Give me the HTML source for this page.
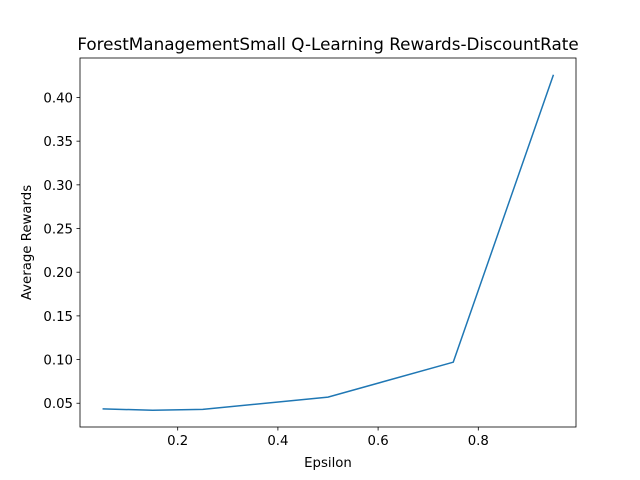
<!DOCTYPE html>
<html><head><meta charset="utf-8"><style>body{margin:0;background:#fff}svg{display:block;font-family:"DejaVu Sans","Liberation Sans",sans-serif}</style></head>
<body>
<svg id="chart" width="640" height="480">
<rect x="0" y="0" width="640" height="480" fill="#fff"/>
<text x="328" y="50" font-size="16.8" text-anchor="middle">ForestManagementSmall Q-Learning Rewards-DiscountRate</text>
<g id="xt"></g>
<g id="yt"></g>
<path id="line" fill="none" stroke="#1f77b4" stroke-width="1.5"/>
<rect x="80" y="58" width="496" height="369" fill="none" stroke="#000" stroke-width="0.8"/>
<text x="328" y="467" font-size="13.3" text-anchor="middle">Epsilon</text>
<text transform="translate(31,242.5) rotate(-90)" font-size="13.3" text-anchor="middle">Average Rewards</text>
</svg>
<script>
const epsilons=[0.05,0.15,0.25,0.5,0.75,0.95];
const rewards=[0.0435,0.042,0.043,0.057,0.097,0.426];
const xTicks=[0.2,0.4,0.6,0.8];
const xTickLabels=["0.2","0.4","0.6","0.8"];
const yTicks=[0.05,0.10,0.15,0.20,0.25,0.30,0.35,0.40];
const yTickLabels=["0.05","0.10","0.15","0.20","0.25","0.30","0.35","0.40"];
const L=80,R=576,T=58,B=427;
const xmin=Math.min(...epsilons),xmax=Math.max(...epsilons),xr=xmax-xmin;
const ymin0=Math.min(...rewards),ymax0=Math.max(...rewards),yr=ymax0-ymin0;
const x0=xmin-0.05*xr,x1=xmax+0.05*xr,y0=ymin0-0.05*yr,y1=ymax0+0.05*yr;
const sx=v=>L+(v-x0)/(x1-x0)*(R-L);
const sy=v=>B-(v-y0)/(y1-y0)*(B-T);
const NS="http://www.w3.org/2000/svg";
const xt=document.getElementById('xt'),yt=document.getElementById('yt');
xTicks.forEach((t,i)=>{
 const l=document.createElementNS(NS,'line');
 
 
 l.setAttribute('x1',sx(t));l.setAttribute('x2',sx(t));l.setAttribute('y1',B);l.setAttribute('y2',B+3.5);l.setAttribute('stroke','#000');l.setAttribute('stroke-width','0.8');xt.appendChild(l);
 const s=document.createElementNS(NS,'text');
 
 
 s.setAttribute('x',sx(t));s.setAttribute('y',B+18);s.setAttribute('font-size','13.3');s.setAttribute('text-anchor','middle');s.textContent=xTickLabels[i];xt.appendChild(s);
});
yTicks.forEach((t,i)=>{
 const l=document.createElementNS(NS,'line');
 
 
 l.setAttribute('x1',L-3.5);l.setAttribute('x2',L);l.setAttribute('y1',sy(t));l.setAttribute('y2',sy(t));l.setAttribute('stroke','#000');l.setAttribute('stroke-width','0.8');yt.appendChild(l);
 const s=document.createElementNS(NS,'text');
 
 
 s.setAttribute('x',L-7);s.setAttribute('y',sy(t)+5);s.setAttribute('font-size','13.3');s.setAttribute('text-anchor','end');s.textContent=yTickLabels[i];yt.appendChild(s);
});
document.getElementById('line').setAttribute('d',epsilons.map((e,i)=>(i?'L':'M')+sx(e)+','+sy(rewards[i])).join(' '));
</script>
</body></html>
